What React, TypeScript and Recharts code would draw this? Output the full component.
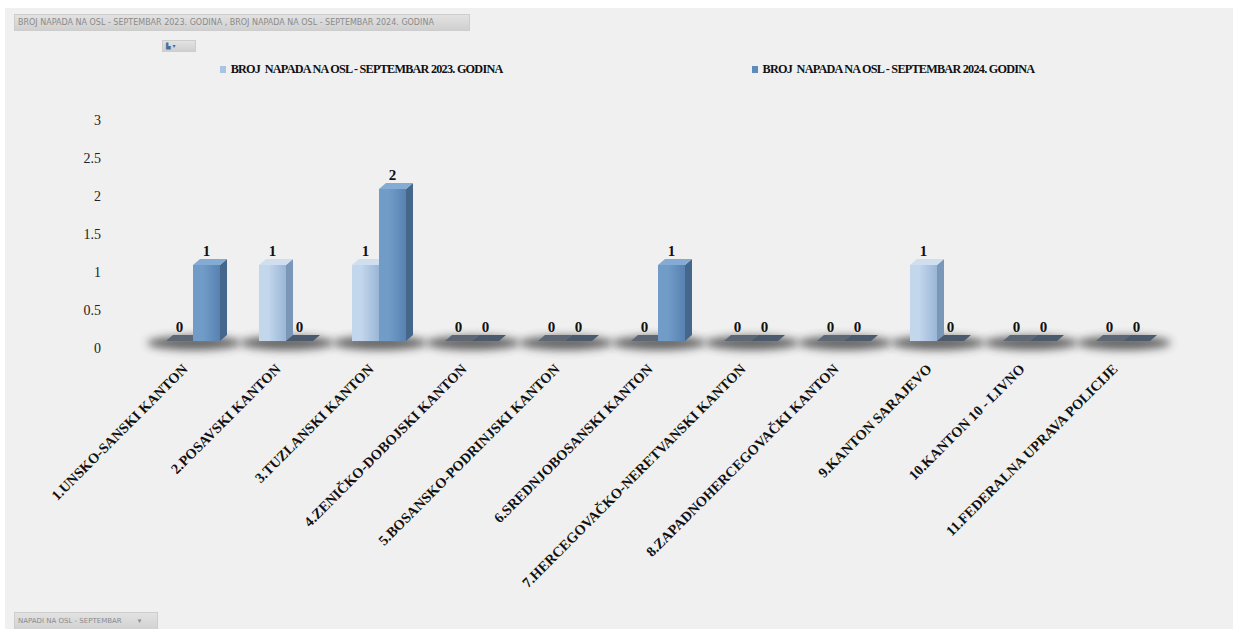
import { BarChart, Bar, XAxis, YAxis, Legend, LabelList } from "recharts";

const categories = [
  "1.UNSKO-SANSKI KANTON",
  "2.POSAVSKI KANTON",
  "3.TUZLANSKI KANTON",
  "4.ZENIČKO-DOBOJSKI KANTON",
  "5.BOSANSKO-PODRINJSKI KANTON",
  "6.SREDNJOBOSANSKI KANTON",
  "7.HERCEGOVAČKO-NERETVANSKI KANTON",
  "8.ZAPADNOHERCEGOVAČKI KANTON",
  "9.KANTON SARAJEVO",
  "10.KANTON 10 - LIVNO",
  "11.FEDERALNA UPRAVA POLICIJE",
];
const sep2023 = [0, 1, 1, 0, 0, 0, 0, 0, 1, 0, 0];
const sep2024 = [1, 0, 2, 0, 0, 1, 0, 0, 0, 0, 0];
const yTicks = [0, 0.5, 1, 1.5, 2, 2.5, 3];
const seriesNames = [
  "BROJ  NAPADA NA OSL - SEPTEMBAR 2023. GODINA",
  "BROJ  NAPADA NA OSL - SEPTEMBAR 2024. GODINA",
];

const data = categories.map((name, i) => ({
  name,
  s2023: sep2023[i],
  s2024: sep2024[i],
}));

const SERIF = '"Liberation Serif", "DejaVu Serif", serif';
const DX = 7;
const DY = 6;

const palette: Record<string, any> = {
  s2023: { left: "#c2d6ec", right: "#9ab6d6", top: "#cfdff0", side: "#7b97b7", flat: "#5d6874", icon: "#a9c4e2" },
  s2024: { left: "#729cc8", right: "#5782b1", top: "#83abd3", side: "#45678c", flat: "#4b5b6d", icon: "#5f8bbb" },
};

function make3DBar(key: string, withShadow: boolean) {
  return (props: any) => {
    const { x, y, width, height } = props;
    const c = palette[key];
    const base = y + height;
    const gid = `front-${key}`;
    return (
      <g>
        <defs>
          <linearGradient id={gid} x1="0" y1="0" x2="1" y2="0">
            <stop offset="0%" stopColor={c.left} />
            <stop offset="35%" stopColor={c.left} />
            <stop offset="100%" stopColor={c.right} />
          </linearGradient>
          <filter id="floorBlur" x="-50%" y="-300%" width="200%" height="700%">
            <feGaussianBlur stdDeviation="4" />
          </filter>
        </defs>
        {withShadow && (
          <ellipse
            cx={x + width + 1}
            cy={base + 2}
            rx={47}
            ry={7}
            fill="#363636"
            opacity={0.75}
            filter="url(#floorBlur)"
          />
        )}
        {height > 0.5 ? (
          <>
            <polygon
              points={`${x + width},${y} ${x + width + DX},${y - DY} ${x + width + DX},${base - DY} ${x + width},${base}`}
              fill={c.side}
            />
            <polygon
              points={`${x},${y} ${x + DX},${y - DY} ${x + width + DX},${y - DY} ${x + width},${y}`}
              fill={c.top}
            />
            <rect x={x} y={y} width={width} height={height} fill={`url(#${gid})`} />
          </>
        ) : (
          <polygon
            points={`${x},${base} ${x + DX},${base - DY} ${x + width + DX},${base - DY} ${x + width},${base}`}
            fill={c.flat}
          />
        )}
      </g>
    );
  };
}

const ValueLabel = (props: any) => {
  const { x, y, width, value } = props;
  return (
    <text
      x={x + width / 2}
      y={y - 9}
      textAnchor="middle"
      fontFamily={SERIF}
      fontWeight={700}
      fontSize={15}
      fill="#111"
    >
      {value}
    </text>
  );
};

const XTick = (props: any) => {
  const { x, y, payload } = props;
  return (
    <g transform={`translate(${x - 4},${y + 21})`}>
      <text
        textAnchor="end"
        transform="rotate(-45)"
        fontFamily={SERIF}
        fontWeight={700}
        fontSize={14.3}
        fill="#111"
      >
        {payload.value}
      </text>
    </g>
  );
};

const YTick = (props: any) => {
  const { y, payload } = props;
  return (
    <text
      x={96}
      y={y + 7}
      dy="0.35em"
      textAnchor="end"
      fontFamily={SERIF}
      fontSize={14}
      fill="#222"
    >
      {payload.value}
    </text>
  );
};

const renderLegend = (props: any) => {
  const items = props.payload || [];
  return (
    <div
      style={{
        display: "flex",
        justifyContent: "center",
        gap: 249,
        paddingLeft: 16,
        fontFamily: SERIF,
        fontWeight: 700,
        fontSize: 12.2,
        letterSpacing: -0.75,
        color: "#111",
      }}
    >
      {items.map((it: any, i: number) => (
        <div key={i} style={{ display: "flex", alignItems: "center" }}>
          <span
            style={{
              width: 6,
              height: 7,
              marginRight: 5,
              background: palette[it.dataKey].icon,
              display: "inline-block",
            }}
          />
          <span style={{ whiteSpace: "pre" }}>{it.value}</span>
        </div>
      ))}
    </div>
  );
};

const buttonStyle: React.CSSProperties = {
  position: "absolute",
  background: "linear-gradient(#e2e2e2, #d0d0d0)",
  border: "1px solid #cdcdcd",
  fontFamily: '"DejaVu Sans", sans-serif',
  color: "#8a8a8a",
  whiteSpace: "nowrap",
  overflow: "hidden",
  boxSizing: "border-box",
  paddingLeft: 3,
};

export default function App() {
  return (
    <>
      <style>{"html, body { margin: 0; overflow: hidden; background: #fff; }"}</style>
      <div
        style={{
          position: "absolute",
          left: 5,
          top: 8,
          width: 1260,
          height: 640,
          background: "#f0f0f0",
          overflow: "hidden",
        }}
      >
        <BarChart
          width={1228}
          height={621}
          data={data}
          margin={{ top: 105, right: 64, left: 0, bottom: 0 }}
          barCategoryGap={20}
          barGap={0}
        >
          <XAxis
            dataKey="name"
            height={288}
            interval={0}
            axisLine={false}
            tickLine={false}
            tick={<XTick />}
          />
          <YAxis
            width={141}
            domain={[0, 3]}
            ticks={yTicks}
            axisLine={false}
            tickLine={false}
            tick={<YTick />}
          />
          <Legend
            verticalAlign="middle"
            align="center"
            wrapperStyle={{ top: 54, left: 0, width: 1228 }}
            content={renderLegend}
          />
          <Bar
            dataKey="s2023"
            name={seriesNames[0]}
            fill={palette.s2023.icon}
            shape={make3DBar("s2023", true)}
            isAnimationActive={false}
          >
            <LabelList dataKey="s2023" content={<ValueLabel />} />
          </Bar>
          <Bar
            dataKey="s2024"
            name={seriesNames[1]}
            fill={palette.s2024.icon}
            shape={make3DBar("s2024", false)}
            isAnimationActive={false}
          >
            <LabelList dataKey="s2024" content={<ValueLabel />} />
          </Bar>
        </BarChart>
        <div style={{ ...buttonStyle, left: 9, top: 6, width: 456, height: 17, lineHeight: "15px", fontSize: 8 }}>
          BROJ NAPADA NA OSL - SEPTEMBAR 2023. GODINA , BROJ NAPADA NA OSL - SEPTEMBAR 2024. GODINA
        </div>
        <div style={{ ...buttonStyle, left: 157, top: 32, width: 34, height: 12, lineHeight: "10px", fontSize: 6, color: "#4a6f98" }}>
          ▙ ▾
        </div>
        <div style={{ ...buttonStyle, left: 9, top: 604, width: 144, height: 20, lineHeight: "16px", fontSize: 7 }}>
          NAPADI NA OSL - SEPTEMBAR <span style={{ marginLeft: 14 }}>▾</span>
        </div>
      </div>
    </>
  );
}
